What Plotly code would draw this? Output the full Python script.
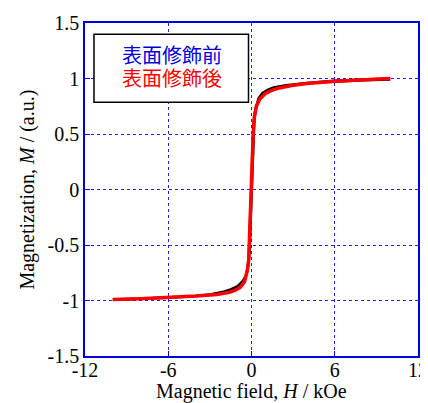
import plotly.graph_objects as go

# Descending branch (H from +10 to -10) and ascending branch (H from -10 to +10), kOe
H_desc = [10, 8, 6, 4, 3, 2, 1.5, 1.0, 0.6, 0.35, 0.2, 0.12, 0.08, 0.04, 0.0, -0.04, -0.08, -0.12, -0.2, -0.3, -0.5, -0.8, -1.2, -1.6, -2.5, -4, -6, -8, -10]
M_desc = [1.0, 0.99, 0.98, 0.96, 0.945, 0.92, 0.9, 0.87, 0.82, 0.76, 0.66, 0.5, 0.35, 0.18, 0.0, -0.18, -0.35, -0.5, -0.62, -0.72, -0.82, -0.87, -0.9, -0.92, -0.94, -0.96, -0.975, -0.985, -0.99]
H_asc = [-10, -8, -6, -4, -3, -2, -1.5, -1.0, -0.6, -0.35, -0.2, -0.12, -0.08, -0.04, 0.0, 0.04, 0.08, 0.12, 0.2, 0.3, 0.5, 0.8, 1.2, 1.6, 2.5, 4, 6, 8, 10]
M_asc = [-0.99, -0.985, -0.975, -0.96, -0.945, -0.92, -0.9, -0.87, -0.82, -0.76, -0.66, -0.5, -0.35, -0.18, 0.0, 0.18, 0.35, 0.5, 0.62, 0.72, 0.82, 0.87, 0.9, 0.92, 0.94, 0.96, 0.975, 0.985, 0.99]

# Red (after modification)
H2_desc = [10, 8, 6, 4, 3, 2, 1.5, 1.0, 0.6, 0.35, 0.2, 0.12, 0.08, 0.04, 0.0, -0.04, -0.08, -0.12, -0.2, -0.3, -0.5, -0.8, -1.2, -1.6, -2.5, -4, -6, -8, -10]
M2_desc = [1.0, 0.99, 0.975, 0.955, 0.94, 0.915, 0.895, 0.865, 0.815, 0.75, 0.65, 0.5, 0.35, 0.18, 0.0, -0.18, -0.35, -0.5, -0.63, -0.73, -0.83, -0.88, -0.91, -0.925, -0.945, -0.96, -0.975, -0.985, -0.99]

x_ticks = [-12, -6, 0, 6, 12]
y_ticks = [-1.5, -1, -0.5, 0, 0.5, 1, 1.5]
y_tick_labels = ["-1.5", "-1", "-0.5", "0", "0.5", "1", "1.5"]

x_title = "Magnetic field, <i>H</i> / kOe"
y_title = "Magnetization, <i>M</i> / (a.u.)"
label_before = "表面修飾前"
label_after = "表面修飾後"

fig = go.Figure()
fig.add_trace(go.Scatter(x=H_desc + H_asc, y=M_desc + M_asc, mode="lines",
                         line=dict(color="black", width=2.5), name=label_before, showlegend=False))
fig.add_trace(go.Scatter(x=H2_desc, y=M2_desc, mode="lines",
                         line=dict(color="red", width=3.5), name=label_after, showlegend=False))

axis_common = dict(showline=True, linecolor="#0000dd", linewidth=1.5, mirror=True,
                   ticks="inside", tickcolor="#0000dd", ticklen=5,
                   showgrid=True, gridcolor="#2222dd", griddash="dot", gridwidth=1,
                   zeroline=False, automargin=False,
                   tickfont=dict(family="Liberation Serif", size=20, color="black"))

fig.update_xaxes(range=[-12, 12], tickvals=x_ticks, ticktext=[str(v) for v in x_ticks],
                 ticklabelstandoff=-5, **axis_common)
fig.update_yaxes(range=[-1.5, 1.5], tickvals=y_ticks, ticktext=y_tick_labels, **axis_common)

# Axis titles
title_font = dict(family="Liberation Serif", size=20, color="black")
fig.add_annotation(xref="paper", yref="paper", x=0.5, y=-0.106, xanchor="center", yanchor="middle",
                   text=x_title, showarrow=False, font=title_font)
fig.add_annotation(xref="paper", yref="paper", x=-0.174, y=0.5, xanchor="center", yanchor="middle",
                   text=y_title, showarrow=False, textangle=-90, font=title_font)

# Legend box
fig.add_shape(type="rect", xref="paper", yref="paper", x0=0.027, x1=0.491, y0=0.762, y1=0.966,
              line=dict(color="black", width=1.5), fillcolor="white", layer="above")
fig.add_annotation(xref="paper", yref="paper", x=0.26, y=0.905, xanchor="center", yanchor="middle",
                   text=label_before, showarrow=False,
                   font=dict(family="Noto Sans CJK JP", size=20, color="#0000dd"))
fig.add_annotation(xref="paper", yref="paper", x=0.26, y=0.836, xanchor="center", yanchor="middle",
                   text=label_after, showarrow=False,
                   font=dict(family="Noto Sans CJK JP", size=20, color="red"))

# The page body has an 8 px margin, so the figure is sized to fit inside the window
fig.update_layout(width=420, height=395, margin=dict(l=77, r=10, t=15, b=47),
                  plot_bgcolor="white", paper_bgcolor="white", showlegend=False)

fig.write_html("out.html")
